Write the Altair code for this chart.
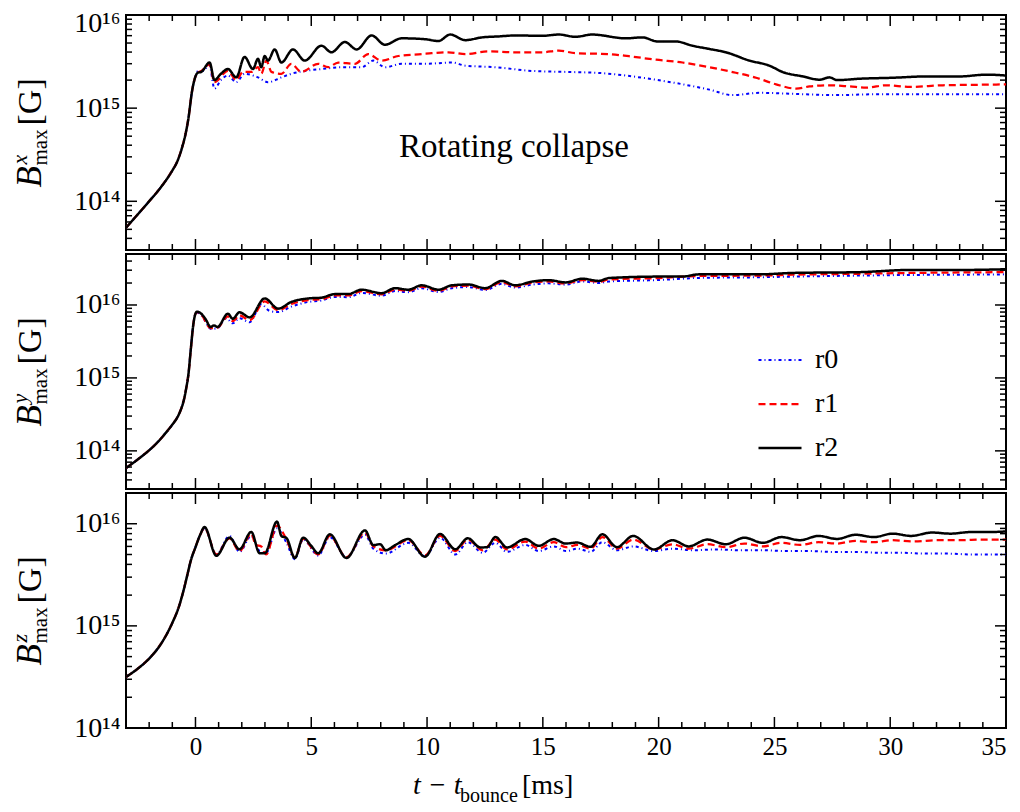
import altair as alt
import pandas as pd

FONT = "Liberation Serif"
W, H = 880, 235
X_DOMAIN = [-3, 35]
UNIT = 1e15  # stored values are in units of 1e15 G

RUNS = ["r0", "r1", "r2"]
COLORS = ["#0000ff", "#ff0000", "#000000"]
DASHES = [[3, 3, 1, 3], [7, 4], [1, 0]]
WIDTHS = [2.0, 2.5, 2.7]

# ---------------- B^x_max ----------------
bx_pre_t = [-3.0, -2.5, -2.0, -1.5, -1.0, -0.8, -0.6, -0.45, -0.3, -0.15, 0.0]
bx_pre = [0.052, 0.072, 0.10, 0.141, 0.214, 0.263, 0.363, 0.50, 0.79, 1.51, 2.19]

bx_r2_t = [0.1, 0.25, 0.61, 0.82, 1.1, 1.4, 1.76, 2.12, 2.48, 2.7, 2.84, 2.99, 3.13, 3.42, 3.71,
           4.21, 4.72, 5.44, 5.87, 6.45, 6.96, 7.61, 8.18, 8.9, 9.91, 10.49, 11.0, 11.65, 12.37,
           13.09, 13.81, 14.97, 15.69, 16.41, 17.13, 18.58, 19.3, 19.95, 20.74, 21.46, 22.19,
           22.9, 23.92, 24.78, 25.36, 26.23, 26.95, 27.38, 27.7, 28.68, 30.12, 31.56, 33.0, 34.16, 35.0]
bx_r2 = [2.4, 2.45, 3.09, 2.0, 2.34, 2.63, 2.14, 3.55, 2.63, 3.39, 2.75, 3.63, 3.24, 4.27, 3.09,
         4.27, 3.24, 4.68, 3.98, 5.13, 4.27, 6.03, 4.79, 5.62, 5.5, 5.25, 6.17, 5.37, 5.75,
         5.89, 6.03, 5.98, 6.17, 5.83, 6.17, 5.62, 5.75, 5.2, 5.2, 4.68, 4.32,
         3.98, 3.24, 2.86, 2.44, 2.19, 2.02, 2.14, 2.0, 2.07, 2.12, 2.19, 2.19, 2.29, 2.24]

bx_r1_t = [0.1, 0.25, 0.61, 0.82, 1.4, 1.76, 2.05, 2.41, 2.7, 2.84, 3.06, 3.28, 3.71, 4.14, 4.57,
           5.3, 5.73, 6.16, 6.88, 7.46, 8.04, 8.76, 9.77, 10.2, 10.92, 11.65, 12.66, 13.81, 14.97,
           15.69, 16.41, 17.86, 18.72, 19.88, 21.03, 22.19, 23.2, 24.21, 25.07, 25.94, 26.52,
           27.38, 28.25, 28.97, 29.83, 30.84, 32.28, 33.72, 35.0]
bx_r1 = [2.4, 2.5, 2.95, 1.9, 2.51, 2.0, 2.45, 2.45, 2.75, 2.34, 3.24, 2.45, 2.34, 2.99, 2.45,
         2.99, 2.75, 3.09, 2.99, 3.8, 3.24, 3.63, 3.8, 3.89, 3.98, 3.8, 4.07, 3.98, 3.98,
         4.14, 3.89, 3.8, 3.61, 3.31, 3.09, 2.75, 2.44, 2.12, 1.8, 1.62, 1.71,
         1.76, 1.71, 1.66, 1.76, 1.69, 1.76, 1.78, 1.8]

bx_r0_t = [0.1, 0.3, 0.6, 0.82, 1.1, 1.4, 1.76, 2.12, 2.7, 3.13, 3.71, 4.14, 4.72, 5.44, 6.31,
           7.17, 7.68, 8.18, 8.9, 9.91, 11.07, 11.65, 12.95, 14.53, 15.98, 17.5, 19.3, 20.74,
           22.19, 23.2, 24.35, 25.65, 27.67, 29.4, 32.28, 35.0]
bx_r0 = [2.5, 2.5, 2.9, 1.62, 2.0, 2.24, 1.9, 2.34, 2.14, 1.9, 2.14, 2.34, 2.51, 2.63, 2.75,
         2.75, 3.24, 2.75, 2.99, 2.99, 3.09, 2.86, 2.75, 2.51, 2.45, 2.38, 2.12, 1.86,
         1.58, 1.38, 1.46, 1.43, 1.38, 1.41, 1.41, 1.41]

# ---------------- B^y_max ----------------
by_pre_t = [-3.0, -2.5, -2.0, -1.6, -1.3, -1.0, -0.8, -0.65, -0.5, -0.4, -0.3, -0.2, -0.1, 0.0]
by_pre = [0.058, 0.076, 0.102, 0.135, 0.174, 0.229, 0.282, 0.355, 0.50, 0.72, 1.15, 2.5, 5.2, 7.6]

by_r2_t = [0.07, 0.25, 0.45, 0.65, 0.8, 0.95, 1.4, 1.61, 1.9, 2.34, 2.99, 3.57, 4.14, 4.87, 5.44,
           6.02, 6.6, 7.17, 8.04, 8.62, 9.19, 9.77, 10.49, 11.07, 11.79, 12.51, 13.23, 13.81,
           14.53, 15.25, 15.98, 16.7, 17.42, 17.85, 20.02, 21.0, 21.75, 24.35, 25.79, 28.67,
           30.84, 33.0, 35.0]
by_r2 = [8.1, 7.59, 6.3, 5.0, 5.25, 5.0, 7.59, 6.46, 7.94, 6.76, 12.3, 8.91, 11.0, 12.3, 12.6,
         14.1, 14.1, 16.2, 14.5, 17.0, 16.2, 18.6, 16.2, 18.6, 19.1, 17.0, 21.4, 18.6,
         20.9, 21.9, 20.4, 22.9, 21.4, 23.4, 24.5, 24.5, 26.3, 26.3, 27.5, 28.2,
         30.2, 30.2, 30.9]

by_r1_t = [0.07, 0.25, 0.65, 0.95, 1.4, 1.61, 1.9, 2.34, 2.99, 3.57, 4.14, 4.87, 5.44, 6.02, 6.6,
           7.17, 8.04, 8.62, 9.19, 9.77, 10.49, 11.07, 11.79, 12.51, 13.23, 13.81, 14.53, 15.25,
           15.98, 16.7, 17.42, 17.85, 20.02, 21.75, 24.35, 25.79, 28.67, 30.84, 33.0, 35.0]
by_r1 = [8.0, 7.4, 4.8, 4.9, 7.0, 6.0, 7.2, 6.2, 11.2, 8.5, 10.3, 11.7, 12.0, 13.5, 13.5,
         15.5, 14.0, 16.3, 15.6, 17.9, 15.6, 18.0, 18.4, 16.5, 20.6, 18.0, 20.2, 21.0,
         19.7, 22.0, 20.8, 22.4, 23.4, 25.0, 25.3, 26.0, 26.8, 27.5, 27.9, 28.2]

by_r0_t = [0.07, 0.25, 0.68, 0.95, 1.33, 1.61, 1.9, 2.34, 2.84, 3.2, 3.57, 4.14, 4.87, 5.44, 6.02,
           6.6, 7.17, 8.04, 8.62, 9.19, 9.77, 10.49, 11.07, 11.79, 12.51, 13.23, 13.81, 14.53,
           15.25, 15.98, 16.7, 17.42, 17.85, 20.02, 21.75, 24.35, 25.79, 28.67, 30.84, 33.0, 35.0]
by_r0 = [7.9, 7.2, 4.7, 4.8, 6.6, 5.6, 6.6, 5.8, 10.2, 8.3, 8.0, 9.5, 11.0, 11.5, 12.9,
         12.8, 14.6, 13.4, 15.5, 15.0, 17.0, 15.0, 17.0, 17.6, 16.0, 19.5, 17.3, 19.0,
         19.8, 19.0, 21.0, 20.0, 21.0, 22.0, 23.5, 24.0, 24.5, 25.3, 25.8, 26.0, 26.3]

# ---------------- B^z_max ----------------
bz_pre_t = [-3.0, -2.5, -2.0, -1.5, -1.0, -0.7, -0.5, -0.35, -0.2, 0.0, 0.2]
bz_pre = [0.316, 0.38, 0.479, 0.661, 1.07, 1.58, 2.29, 3.16, 4.37, 5.89, 7.76]

bz_r2_t = [0.39, 0.9, 1.47, 1.9, 2.41, 2.77, 2.99, 3.52, 3.71, 3.93, 4.29, 4.65, 5.01, 5.3, 5.8,
           6.52, 7.32, 7.68, 7.97, 8.22, 8.62, 9.19, 9.91, 10.56, 11.22, 11.76, 12.3, 12.59,
           12.95, 13.45, 14.24, 14.82, 15.47, 15.98, 16.48, 17.06, 17.57, 18.2, 18.9, 19.8,
           20.6, 21.3, 22.1, 22.9, 23.7, 24.5, 25.3, 26.1, 26.9, 27.7, 28.5, 29.3, 30.1, 30.9,
           31.8, 32.6, 33.5, 34.3, 35.0]
bz_r2 = [9.27, 4.86, 7.31, 5.62, 8.32, 5.13, 5.13, 10.5, 7.59, 7.24, 4.62, 7.31, 6.03, 5.13, 7.89,
         4.62, 8.61, 6.17, 6.31, 5.5, 6.17, 7.08, 4.75, 7.94, 5.62, 7.21, 5.86, 5.89,
         7.41, 5.86, 7.08, 6.08, 7.08, 6.4, 6.55, 5.94, 7.89, 5.9, 7.6, 5.6,
         6.9, 6.0, 7.0, 6.3, 7.3, 6.5, 7.4, 6.9, 7.6, 7.1, 7.8, 7.4, 8.0, 7.6,
         8.2, 8.0, 8.3, 8.3, 8.4]

bz_r1_t = [0.39, 0.9, 1.47, 1.9, 2.41, 2.6, 2.84, 3.05, 3.52, 3.93, 4.29, 4.65, 5.3, 5.8, 6.52,
           7.32, 7.68, 8.22, 9.19, 9.91, 10.56, 11.22, 11.76, 12.4, 12.95, 13.45, 14.24, 14.82,
           15.47, 16.0, 16.5, 17.06, 17.57, 18.2, 18.9, 19.8, 20.6, 21.3, 22.1, 22.9, 23.7,
           24.5, 25.3, 26.1, 26.9, 27.7, 28.5, 29.3, 30.1, 31.0, 32.0, 33.0, 34.0, 35.0]
bz_r1 = [9.1, 5.0, 7.2, 5.4, 8.0, 6.2, 6.0, 5.0, 9.6, 7.0, 4.7, 7.1, 5.0, 7.6, 4.7,
         8.2, 6.0, 5.5, 6.9, 4.9, 7.6, 5.4, 7.0, 5.5, 7.0, 5.6, 6.7, 5.7,
         6.6, 5.9, 6.2, 5.7, 7.4, 5.7, 7.0, 5.6, 6.3, 5.7, 6.3, 5.9, 6.4,
         6.0, 6.5, 6.2, 6.6, 6.4, 6.8, 6.6, 6.9, 6.7, 6.9, 6.9, 7.0, 7.0]

bz_r0_t = [0.39, 0.9, 1.47, 1.9, 2.41, 2.77, 3.05, 3.52, 3.93, 4.29, 4.65, 5.3, 5.8, 6.52, 7.32,
           7.68, 8.22, 9.19, 9.91, 10.56, 11.22, 11.76, 12.4, 12.95, 13.45, 14.24, 14.82, 15.47,
           16.0, 16.5, 17.06, 17.57, 18.2, 18.9, 19.8, 20.6, 21.5, 22.5, 23.5, 24.5, 25.5,
           26.5, 27.5, 28.5, 29.5, 30.5, 31.5, 32.5, 33.5, 34.5, 35.0]
bz_r0 = [9.0, 5.0, 7.6, 5.3, 7.6, 5.4, 5.2, 9.0, 6.5, 4.5, 7.0, 4.9, 7.4, 4.7, 7.8,
         5.7, 5.1, 6.5, 4.8, 7.3, 5.0, 6.6, 5.2, 6.5, 5.3, 6.2, 5.4, 6.0,
         5.4, 5.7, 5.3, 6.6, 5.5, 6.0, 5.4, 5.7, 5.5, 5.6, 5.5, 5.5, 5.4,
         5.4, 5.3, 5.3, 5.2, 5.2, 5.1, 5.1, 5.0, 5.0, 5.0]

# tick positions
X_MAJOR = [0, 5, 10, 15, 20, 25, 30, 35]
X_MINOR = [v for v in range(-2, 35) if v % 5 != 0]
X_LABELS = [0, 5, 10, 15, 20, 25, 30, 35]


def make_df(pre_t, pre_v, series):
    rows = []
    for run, (ts, vs) in zip(RUNS, series):
        if len(ts) != len(vs):
            raise ValueError(f"length mismatch in {run}: {len(ts)} vs {len(vs)}")
        for t, v in zip(pre_t + ts, pre_v + vs):
            rows.append({"t": t, "B": v * UNIT, "run": run})
    return pd.DataFrame(rows)


def log_ticks(lo, hi):
    majors, minors = [], []
    for e in range(12, 18):
        for k in range(1, 10):
            v = k * 10.0 ** e
            if lo * 0.999 <= v <= hi * 1.001:
                (majors if k == 1 else minors).append(v)
    return majors, minors


LEGEND = alt.Legend(title=None, orient="none", legendX=631, legendY=322,
                    symbolType="stroke", symbolSize=1850, symbolStrokeWidth=2.6,
                    labelFontSize=28, labelFont=FONT, labelColor="black",
                    labelOffset=12, rowPadding=7, padding=0, direction="vertical")

LABEL_EXPR = ("datum.value == 1e14 ? '10\u00b9\u2074' : datum.value == 1e15 ? '10\u00b9\u2075' : "
              "datum.value == 1e16 ? '10\u00b9\u2076' : ''")

one = pd.DataFrame({"a": [0]})


def text_piece(txt, x, y, size, style="normal", angle=0, dx=0, dy=0, align="left"):
    return alt.Chart(one).mark_text(
        text=txt, font=FONT, fontSize=size, fontStyle=style, color="black",
        angle=angle, dx=dx, dy=dy, align=align, baseline="alphabetic"
    ).encode(x=alt.value(x), y=alt.value(y))


def panel(df, ydomain, sup, bottom=False, extra=None, flush=False):
    xs = alt.Scale(domain=X_DOMAIN, nice=False, zero=False)
    ys = alt.Scale(type="log", domain=ydomain, nice=False)
    majors, minors = log_ticks(*ydomain)
    if bottom:
        xaxis = alt.Axis(values=X_LABELS, ticks=False, domain=False, grid=False, title=None,
                         labelFontSize=25, labelFont=FONT, labelColor="black", labelPadding=6)
    else:
        xaxis = None
    yopts = dict(values=majors, ticks=False, domain=False, grid=False, title=None,
                 labelExpr=LABEL_EXPR, labelFontSize=28, labelFont=FONT,
                 labelColor="black", labelPadding=6)
    if flush:
        yopts.update(labelFlush=True, labelFlushOffset=6)
    yaxis = alt.Axis(**yopts)
    X = alt.X("t:Q", scale=xs, axis=xaxis)
    Y = alt.Y("B:Q", scale=ys, axis=yaxis)
    lines = alt.Chart(df).mark_line(interpolate="monotone", clip=True).encode(
        x=X,
        y=Y,
        color=alt.Color("run:N", scale=alt.Scale(domain=RUNS, range=COLORS), legend=LEGEND),
        strokeDash=alt.StrokeDash("run:N", scale=alt.Scale(domain=RUNS, range=DASHES), legend=LEGEND),
        strokeWidth=alt.StrokeWidth("run:N", scale=alt.Scale(domain=RUNS, range=WIDTHS), legend=None),
        order=alt.Order("run:N"),
    )
    layers = [lines]

    def xt(vals, length):
        d = pd.DataFrame({"t": vals})
        base = alt.Chart(d).mark_rule(color="black", strokeWidth=1.5)
        return [
            base.encode(x=X, y=alt.value(H), y2=alt.value(H - length)),
            base.encode(x=X, y=alt.value(0), y2=alt.value(length)),
        ]

    def yt(vals, length):
        d = pd.DataFrame({"B": vals})
        base = alt.Chart(d).mark_rule(color="black", strokeWidth=1.5)
        return [
            base.encode(y=Y, x=alt.value(0), x2=alt.value(length)),
            base.encode(y=Y, x=alt.value(W), x2=alt.value(W - length)),
        ]

    layers += xt(X_MAJOR, 11) + xt(X_MINOR, 6) + yt(majors, 11) + yt(minors, 6)

    # y title: B^sup_max [G], rotated
    tx, ty = -85, H / 2 + 55
    layers += [
        text_piece("B", tx, ty, 35, "italic", 270, 0, 0),
        text_piece(sup, tx, ty, 22, "italic", 270, 23, -14),
        text_piece("max", tx, ty, 21, "normal", 270, 22, 6),
        text_piece("[G]", tx, ty, 34, "normal", 270, 62, 0),
    ]
    if extra:
        layers += extra
    return alt.layer(*layers).properties(width=W, height=H)


df_x = make_df(bx_pre_t, bx_pre, [(bx_r0_t, bx_r0), (bx_r1_t, bx_r1), (bx_r2_t, bx_r2)])
df_y = make_df(by_pre_t, by_pre, [(by_r0_t, by_r0), (by_r1_t, by_r1), (by_r2_t, by_r2)])
df_z = make_df(bz_pre_t, bz_pre, [(bz_r0_t, bz_r0), (bz_r1_t, bz_r1), (bz_r2_t, bz_r2)])

annot = [text_piece("Rotating collapse", 388, 142, 33, align="center")]
xtitle = [
    text_piece("t \u2212 t", 287, H + 66, 28, "italic"),
    text_piece("bounce", 334, H + 74, 20),
    text_piece("[ms]", 396, H + 66, 28),
]

p1 = panel(df_x, [3e13, 1e16], "x", extra=annot, flush=True)
p2 = panel(df_y, [3e13, 5e16], "y")
p3 = panel(df_z, [1e14, 2e16], "z", bottom=True, extra=xtitle)

chart = alt.vconcat(p1, p2, p3, spacing=0).properties(
    padding={"left": 0, "top": 0, "right": 0, "bottom": 0}
).configure_view(stroke="black", strokeWidth=2).configure_concat(spacing=0)

chart.save("out.html", embed_options={"renderer": "svg", "actions": False})
